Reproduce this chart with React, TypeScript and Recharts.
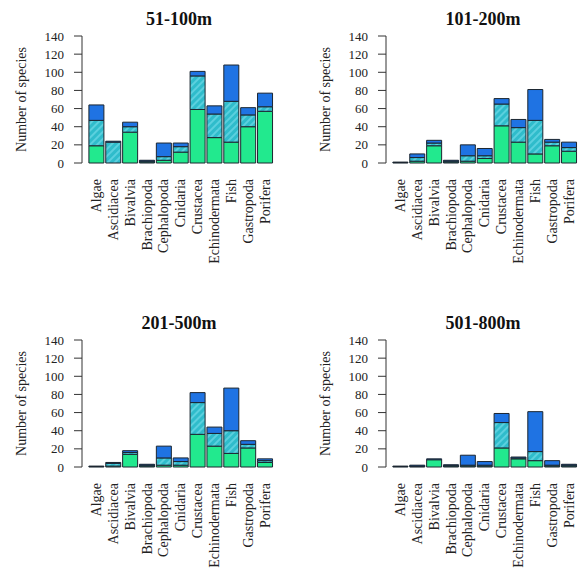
import React from 'react';
import { BarChart, Bar, XAxis, YAxis } from 'recharts';

const categories = ['Algae', 'Ascidiacea', 'Bivalvia', 'Brachiopoda', 'Cephalopoda', 'Cnidaria', 'Crustacea', 'Echinodermata', 'Fish', 'Gastropoda', 'Porifera'];
const yTicks = [0, 20, 40, 60, 80, 100, 120, 140];

// 51-100m
const lowerA = [19, 0, 34, 1, 3, 12, 59, 28, 23, 40, 57];
const middleA = [28, 23, 6, 1, 4, 6, 37, 26, 45, 13, 5];
const upperA = [17, 1, 5, 1, 15, 4, 5, 9, 40, 8, 15];
// 101-200m
const lowerB = [0.5, 2, 19, 1, 2, 5, 41, 23, 10, 19, 13];
const middleB = [0, 4, 3, 1, 6, 3, 24, 16, 37, 4, 4];
const upperB = [0.5, 4, 3, 1, 12, 8, 6, 9, 34, 3, 6];
// 201-500m
const lowerC = [0.5, 1, 14, 1, 2, 2, 36, 23, 15, 21, 5];
const middleC = [0, 3, 2, 1, 8, 4, 35, 14, 25, 4, 2];
const upperC = [0.5, 1, 2, 1, 13, 4, 11, 7, 47, 4, 2];
// 501-800m
const lowerD = [0.5, 0.5, 8, 1, 1, 1, 21, 9, 7, 1, 1];
const middleD = [0, 0.5, 0, 0.5, 1, 1, 28, 1, 10, 1, 1];
const upperD = [0.5, 1, 1, 1, 11, 4, 10, 1, 44, 5, 1];

const FONT = '"Liberation Serif", "Times New Roman", serif';
const GREEN = '#22e98e';
const BLUE = '#1f73e3';
const STROKE = '#1c2630';

const CatTick = (props: any) => {
  const { x, y, payload } = props;
  const ty = y + 16;
  return (
    <text
      x={x}
      y={ty}
      transform={`rotate(-90 ${x} ${ty})`}
      textAnchor="end"
      dominantBaseline="central"
      fontSize={14}
      fontFamily={FONT}
      fill="#222"
    >
      {payload.value}
    </text>
  );
};

const YLabel = () => (
  <text
    x={21}
    y={99.5}
    transform={`rotate(-90 21 99.5)`}
    textAnchor="middle"
    dominantBaseline="central"
    fontSize={14}
    fontFamily={FONT}
    fill="#222"
  >
    Number of species
  </text>
);

type PanelProps = {
  title: string;
  lower: number[];
  middle: number[];
  upper: number[];
  left: number;
  top: number;
  id: string;
};

const Panel = ({ title, lower, middle, upper, left, top, id }: PanelProps) => {
  const data = categories.map((c, i) => ({ category: c, lower: lower[i], middle: middle[i], upper: upper[i] }));
  return (
    <div style={{ position: 'absolute', left, top, width: 277, height: 267 }}>
      <div
        style={{
          position: 'absolute',
          left: 82,
          width: 194,
          top: 10,
          textAlign: 'center',
          fontFamily: FONT,
          fontWeight: 'bold',
          fontSize: 18,
          lineHeight: '18px',
          color: '#111',
        }}
      >
        {title}
      </div>
      <BarChart width={277} height={267} data={data} margin={{ top: 36, right: 1, bottom: 0, left: 0 }} barCategoryGap={0.9}>
        <defs>
          <pattern id={`hatch-${id}`} patternUnits="userSpaceOnUse" width={5} height={5} patternTransform="rotate(45)">
            <rect width={5} height={5} fill="#2fbccb" />
            <line x1={1} y1={0} x2={1} y2={5} stroke="#66d6e3" strokeWidth={1.6} />
          </pattern>
        </defs>
        <XAxis
          dataKey="category"
          interval={0}
          tick={<CatTick />}
          tickLine={false}
          axisLine={false}
          tickSize={0}
          tickMargin={0}
          height={104}
          padding={{ left: 6, right: 2.5 }}
        />
        <YAxis
          type="number"
          domain={[0, 140]}
          ticks={yTicks}
          interval={0}
          width={82}
          tickSize={8}
          tickMargin={10}
          tick={{ fontSize: 13, fill: '#222', fontFamily: FONT }}
          axisLine={{ stroke: '#333' }}
          tickLine={{ stroke: '#333' }}
          label={{ content: () => <YLabel /> }}
        />
        <Bar dataKey="lower" stackId="s" fill={GREEN} stroke={STROKE} strokeWidth={1} isAnimationActive={false} />
        <Bar dataKey="middle" stackId="s" fill={`url(#hatch-${id})`} stroke={STROKE} strokeWidth={1} isAnimationActive={false} />
        <Bar dataKey="upper" stackId="s" fill={BLUE} stroke={STROKE} strokeWidth={1} isAnimationActive={false} />
      </BarChart>
    </div>
  );
}

export default function App() {
  return (
    <div style={{ position: 'absolute', left: 0, top: 0, width: 581, height: 571, overflow: 'hidden', background: '#fff' }}>
      <Panel title="51-100m" lower={lowerA} middle={middleA} upper={upperA} left={0} top={0} id="a" />
      <Panel title="101-200m" lower={lowerB} middle={middleB} upper={upperB} left={304} top={0} id="b" />
      <Panel title="201-500m" lower={lowerC} middle={middleC} upper={upperC} left={0} top={304} id="c" />
      <Panel title="501-800m" lower={lowerD} middle={middleD} upper={upperD} left={304} top={304} id="d" />
    </div>
  );
}
